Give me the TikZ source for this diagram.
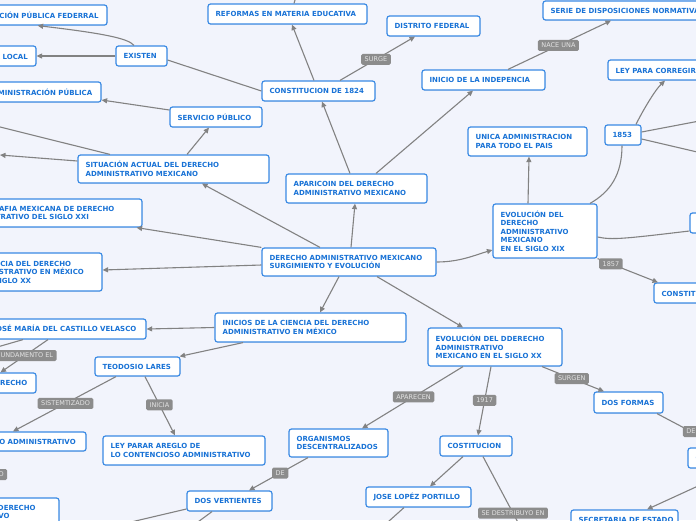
\documentclass[tikz,border=0pt]{standalone}
\usepackage{fontspec}
\newfontfamily\dv{DejaVu Sans}
\usetikzlibrary{arrows.meta,shadows}
\definecolor{bg}{RGB}{242,244,252}
\definecolor{bd}{RGB}{58,138,228}
\definecolor{tx}{RGB}{24,114,214}
\definecolor{ln}{RGB}{130,130,130}
\definecolor{lb}{RGB}{140,140,140}
\definecolor{lt}{RGB}{228,228,228}
\tikzset{
 box/.style={draw=bd,line width=1.2pt,fill=white,rounded corners=2.5pt,inner sep=0pt,
   drop shadow={opacity=0.12,shadow xshift=0.6pt,shadow yshift=-0.8pt}},
 txt/.style={inner sep=0pt,align=left,text=tx,font=\dv\bfseries\fontsize{7}{8.5}\selectfont},
 edge/.style={draw=ln,line width=1.1pt,-{Triangle[length=5.5pt,width=5pt]}},
 plain/.style={draw=ln,line width=1.1pt},
 lbl/.style={fill=lb,text=lt,rounded corners=1.5pt,inner xsep=3.5pt,inner ysep=0pt,
   minimum height=11pt,font=\dv\fontsize{6.5}{7}\selectfont},
}
\newcommand\bx[6]{%
 \pgfmathsetmacro\bw{#4-(#2)}\pgfmathsetmacro\bh{#5-(#3)}%
 \node[box,minimum width=\bw pt,minimum height=\bh pt] (#1) at ({(#2+#4)/2},{(#3+#5)/2}) {};%
 \node[txt,anchor=west] (#1t) at ([xshift=8pt]#1.west) {#6};}
\begin{document}
\begin{tikzpicture}[x=1pt,y=-1pt]
\useasboundingbox (0,0) rectangle (696,520);
\clip (0,0) rectangle (696,520);
\fill[bg] (0,0) rectangle (696,520);

\bx{fed}{-58}{5}{107}{25}{ADMINISTRACIÓN PÚBLICA FEDERRAL}
\bx{loc}{-113}{46}{36}{66}{ADMINISTRACIÓN PÚBLICA LOCAL}
\bx{exi}{116}{46}{167}{66}{EXISTEN}
\bx{adm}{-21}{82}{101}{102}{ADMINISTRACIÓN PÚBLICA}
\bx{ser}{170}{107}{262}{127}{SERVICIO PÚBLICO}
\bx{sit}{78}{155}{269}{183}{SITUACIÓN ACTUAL DEL DERECHO\\ADMINISTRATIVO MEXICANO}
\bx{ref}{208}{4}{367}{24}{REFORMAS EN MATERIA EDUCATIVA}
\bx{dis}{387}{16}{480}{36}{DISTRITO FEDERAL}
\bx{cvt}{262}{81}{375}{101}{CONSTITUCION DE 1824}
\bx{apa}{286}{174}{427}{203}{APARICOIN DEL DERECHO\\ADMINISTRATIVO MEXICANO}
\bx{ind}{422}{70}{545}{90}{INICIO DE LA INDEPENCIA}
\bx{sdn}{543}{1}{740}{20}{SERIE DE DISPOSICIONES NORMATIVAS}
\bx{ley}{608}{60}{800}{80}{LEY PARA CORREGIR LA ADMINISTRACIÓN}
\bx{ocho}{605}{125}{641}{145}{1853}
\bx{uni}{468}{127}{587}{156}{UNICA ADMINISTRACION\\PARA TODO EL PAIS}
\bx{exix}{493}{204}{597}{258}{EVOLUCIÓN DEL\\DERECHO\\ADMINISTRATIVO\\MEXICANO\\EN EL SIGLO XIX}
\bx{rone}{690}{213}{800}{233}{LEYES DE REFORMA}
\bx{csq}{654}{283}{800}{303}{CONSTITUCIÓN DE 1857}
\bx{main}{262}{248}{436}{276}{DERECHO ADMINISTRATIVO MEXICANO\\SURGIMIENTO Y EVOLUCIÓN}
\bx{bib}{-46}{199}{142}{227}{BIBLIOGRAFIA MEXICANA DE DERECHO\\ADMINISTRATIVO DEL SIGLO XXI}
\bx{cie}{-38}{253}{102}{291}{LA CIENCIA DEL DERECHO\\ADMINISTRATIVO EN MÉXICO\\EN EL SIGLO XX}
\bx{jos}{-14}{319}{146}{339}{JOSÉ MARÍA DEL CASTILLO VELASCO}
\bx{ini}{215}{313}{406}{342}{INICIOS DE LA CIENCIA DEL DERECHO\\ADMINISTRATIVO EN MÉXICO}
\bx{der}{-18}{373}{36}{393}{DERECHO}
\bx{teo}{95}{357}{180}{376}{TEODOSIO LARES}
\bx{dad}{-40}{432}{86}{451}{DERECHO ADMINISTRATIVO}
\bx{lpa}{103}{436}{265}{465}{LEY PARAR AREGLO DE\\LO CONTENCIOSO ADMINISTRATIVO}
\bx{tdd}{-66}{498}{59}{526}{TRATADO DEL DERECHO\\ADMINISTRATIVO}
\bx{dve}{187}{491}{272}{511}{DOS VERTIENTES}
\bx{org}{289}{429}{388}{457}{ORGANISMOS\\DESCENTRALIZADOS}
\bx{exx}{428}{328}{562}{366}{EVOLUCIÓN DEL DDERECHO\\ADMINISTRATIVO\\MEXICANO EN EL SIGLO XX}
\bx{cos}{440}{436}{512}{456}{COSTITUCION}
\bx{jlp}{366}{487}{471}{507}{JOSE LOPÉZ PORTILLO}
\bx{dfo}{594}{392}{663}{413}{DOS FORMAS}
\bx{rtwo}{688}{448}{800}{468}{CENTRALIZADA}
\bx{sec}{571}{510}{678}{530}{SECRETARIA DE ESTADO}

\coordinate (offA) at (0,155);
\coordinate (offB) at (-20,122);
\coordinate (offC) at (710,119);
\coordinate (offD) at (710,155);
\coordinate (offE) at (-20,352);
\coordinate (offF) at (97,530);
\coordinate (offG) at (187,530);
\coordinate (offH) at (379,530);
\coordinate (offI) at (522,530);
\coordinate (offJ) at (298,-10);
\node[lbl] (lco) at (-6.5,474.5) {COMO};

\draw[edge] ([xshift=-7.5pt]exi.north) .. controls (128,38) and (100,33) .. ([xshift=-70pt]fed.south east);
\draw[edge] (exi.west) -- (loc.east);
\draw[plain] (cvt.west) -- ([yshift=-4pt]exi.east);
\draw[edge] ([yshift=7pt]ser.west) -- ([yshift=-8pt]adm.east);
\draw[edge] ([xshift=13.5pt]sit.north) -- ([xshift=-7pt]ser.south);
\draw[edge] ([yshift=8pt]sit.west) -- (offA);
\draw[edge] ([xshift=-63.5pt]sit.north) -- (offB);
\draw[plain] ([xshift=6.5pt]ref.north) -- (offJ);
\draw[edge] ([xshift=-4.5pt]cvt.north) -- ([xshift=4.5pt]ref.south);
\draw[edge] ([xshift=21.5pt]cvt.north) -- node[lbl,pos=0.48] (lsurge) {SURGE} ([xshift=-18.5pt]dis.south);
\draw[edge] ([xshift=-6.5pt]apa.north) -- ([xshift=3.5pt]cvt.south);
\draw[edge] ([xshift=19.5pt]apa.north) -- ([xshift=-10.5pt]ind.south);
\draw[edge] ([xshift=24.5pt]ind.north) -- node[lbl,pos=0.49] (lnace) {NACE UNA} ([xshift=-30.5pt]sdn.south);
\draw[edge] ([xshift=13pt]ocho.north) .. controls (642,112) and (655,90) .. ([xshift=-39pt]ley.south);
\draw[edge] ([yshift=3pt]ocho.east) -- (offC);
\draw[edge] ([yshift=-4pt]ocho.east) -- (offD);
\draw[edge] ([xshift=-17pt]exix.north) -- ([xshift=1.5pt]uni.south);
\draw[plain] ([xshift=45pt]exix.north) .. controls (610,192) and (622,175) .. ([xshift=-1pt]ocho.south);
\draw[plain] ([yshift=-6pt]exix.east) .. controls (612,240) and (622,239) .. ([yshift=-8pt]rone.west);
\draw[edge] (exix.south east) -- node[lbl,pos=0.22] (l1857) {1857} ([xshift=-69pt]csq.north);
\draw[edge] (main.east) .. controls (460,262) and (475,255) .. ([yshift=-19pt]exix.west);
\draw[edge] ([xshift=2pt]main.north) -- ([xshift=-1.5pt]apa.south);
\draw[edge] ([xshift=-29pt]main.north) -- ([xshift=28.5pt]sit.south);
\draw[edge] (main.north west) -- ([xshift=-6pt]bib.south east);
\draw[edge] ([yshift=-3pt]main.west) -- ([yshift=2pt]cie.east);
\draw[edge] ([xshift=-10pt]main.south) -- ([xshift=9.5pt]ini.north);
\draw[edge] ([xshift=28pt]main.south) -- ([xshift=-32pt]exx.north);
\draw[edge] (ini.west) -- (jos.east);
\draw[edge] ([xshift=-67.5pt]ini.south) -- ([xshift=-1pt]teo.north east);
\draw[edge] ([xshift=-18pt]jos.south) -- node[lbl,pos=0.485] (lfund) {FUNDAMENTO EL} ([xshift=-8.5pt]der.north);
\draw[edge] ([xshift=-43pt]jos.south) -- (offE);
\draw[edge] ([xshift=-21.5pt]teo.south) -- node[lbl,pos=0.49] (lsist) {SISTEMTIZADO} ([xshift=-10pt]dad.north);
\draw[edge] ([xshift=7.5pt]teo.south) -- node[lbl,pos=0.48] (linic) {INICIA} ([xshift=-9pt]lpa.north);
\draw[edge] ([xshift=-30.5pt]org.south) -- node[lbl,pos=0.47] (lde) {DE} ([xshift=19.5pt]dve.north);
\draw[edge] ([yshift=-8pt]dve.west) -- (offF);
\draw[edge] ([xshift=-17.5pt]dve.south) -- (offG);
\draw[edge] ([xshift=-32pt]exx.south) -- node[lbl,pos=0.49] (lapa) {APARECEN} ([xshift=23.5pt]org.north);
\draw[edge] ([xshift=-4pt]exx.south) -- node[lbl,pos=0.49] (l1917) {1917} ([xshift=2pt]cos.north);
\draw[edge] ([xshift=-13pt]cos.south) -- ([xshift=11.5pt]jlp.north);
\draw[edge] ([xshift=-14.5pt]jlp.south) -- (offH);
\draw[edge] ([xshift=7pt]cos.south) -- node[lbl,pos=0.77] (lsed) {SE DESTRIBUYO EN} (offI);
\draw[edge] ([xshift=47pt]exx.south) -- node[lbl,pos=0.48] (lsurgen) {SURGEN} ([xshift=-24.5pt]dfo.north);
\draw[edge] ([xshift=28.5pt]dfo.south) -- node[lbl,pos=0.53] (lde2) {DE} ([xshift=-23pt]rtwo.north);
\draw[edge] ([xshift=-8pt]rtwo.south) -- ([xshift=22.5pt]sec.north);
\end{tikzpicture}
\end{document}
